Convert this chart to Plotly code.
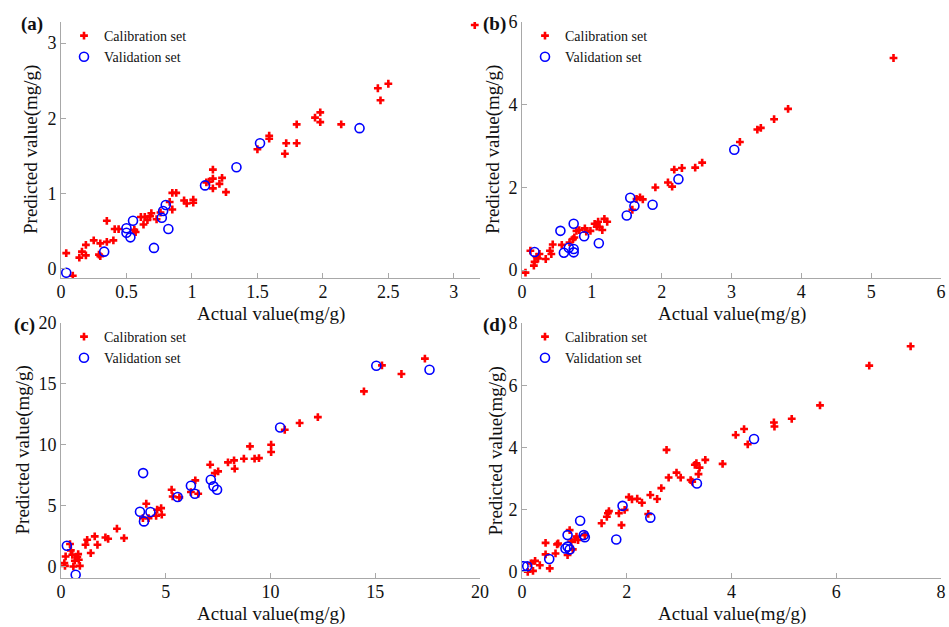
import plotly.graph_objects as go

# ---------------- data ----------------
a_cal_x = [0.04,0.09,0.14,0.16,0.19,0.19,0.25,0.29,0.30,0.30,0.35,0.35,0.40,0.41,0.44,0.56,0.57,0.61,0.63,0.64,0.66,0.68,0.69,0.73,0.76,0.83,0.85,0.85,0.88,0.94,0.96,1.01,1.01,1.11,1.13,1.16,1.16,1.16,1.21,1.23,1.26,1.50,1.59,1.59,1.71,1.72,1.80,1.80,1.94,1.98,1.98,2.14,2.42,2.44,2.50,3.16]
a_cal_y = [0.21,-0.09,0.15,0.23,0.32,0.18,0.38,0.19,0.34,0.17,0.64,0.36,0.38,0.53,0.53,0.52,0.49,0.69,0.59,0.69,0.65,0.70,0.74,0.66,0.75,0.89,0.79,1.01,1.01,0.91,0.87,0.92,0.88,1.15,1.16,1.32,1.20,1.07,1.13,1.21,1.02,1.59,1.77,1.73,1.53,1.67,1.92,1.67,2.01,2.08,1.95,1.92,2.40,2.24,2.46,3.24]
a_val_x = [0.04,0.33,0.50,0.50,0.53,0.55,0.71,0.77,0.78,0.80,0.82,1.10,1.34,1.52,2.28]
a_val_y = [-0.05,0.23,0.54,0.48,0.42,0.64,0.28,0.68,0.77,0.85,0.53,1.11,1.35,1.67,1.87]

b_cal_x = [0.05,0.12,0.17,0.18,0.21,0.23,0.25,0.34,0.40,0.42,0.44,0.57,0.68,0.73,0.75,0.78,0.82,0.90,0.92,0.98,1.04,1.07,1.09,1.11,1.15,1.18,1.22,1.58,1.64,1.69,1.73,1.91,2.09,2.15,2.18,2.29,2.48,2.58,3.12,3.37,3.42,3.61,3.81,5.32]
b_cal_y = [-0.06,0.47,0.11,0.20,0.32,0.28,0.39,0.27,0.47,0.39,0.62,0.61,0.67,0.75,0.79,0.95,0.97,1.01,0.93,0.95,1.12,1.05,1.17,1.05,0.97,1.24,1.17,1.46,1.72,1.76,1.71,2.00,2.12,2.02,2.43,2.47,2.48,2.60,3.10,3.40,3.44,3.65,3.90,5.13]
b_val_x = [0.18,0.55,0.60,0.67,0.74,0.74,0.74,0.89,1.10,1.50,1.55,1.61,1.87,2.24,3.04]
b_val_y = [0.44,0.95,0.42,0.54,1.12,0.51,0.43,0.82,0.65,1.32,1.75,1.55,1.58,2.20,2.91]

c_cal_x = [0.16,0.19,0.22,0.43,0.47,0.54,0.59,0.66,0.78,0.82,0.85,0.90,1.17,1.25,1.42,1.61,1.74,2.12,2.25,2.67,3.01,3.91,4.07,4.18,4.54,4.59,4.78,4.81,5.28,5.33,5.65,6.20,6.41,6.55,7.12,7.34,7.50,7.97,8.26,8.29,8.73,9.02,9.24,9.45,10.03,10.03,10.68,11.39,12.26,14.46,15.32,16.25,17.37]
c_cal_y = [0.27,0.05,0.82,1.84,1.32,0.96,0.00,0.47,0.77,1.01,0.55,0.05,1.78,2.19,1.10,2.47,1.78,2.38,2.27,3.10,2.33,3.97,5.15,3.97,4.16,4.66,4.79,4.25,6.30,5.75,5.67,6.11,7.07,5.97,8.36,7.67,7.81,8.55,8.71,8.03,8.85,9.86,8.85,8.90,10.00,9.40,11.23,11.78,12.27,14.38,16.52,15.81,17.07]
c_val_x = [0.28,0.70,3.77,3.92,3.96,4.27,5.57,6.20,6.39,7.15,7.28,7.45,10.46,15.05,17.59]
c_val_y = [1.70,-0.68,4.49,7.67,3.70,4.47,5.70,6.63,5.97,7.12,6.58,6.30,11.42,16.49,16.16]

d_cal_x = [0.11,0.17,0.21,0.25,0.34,0.45,0.45,0.53,0.64,0.67,0.69,0.87,0.91,0.94,0.97,1.01,1.04,1.07,1.20,1.52,1.62,1.64,1.66,1.85,1.90,1.96,2.04,2.10,2.20,2.29,2.41,2.45,2.58,2.66,2.76,2.80,2.95,3.03,3.22,3.25,3.30,3.33,3.37,3.39,3.50,3.83,4.08,4.24,4.31,4.81,4.82,5.15,5.69,6.63,7.42]
d_cal_y = [0.00,0.27,0.03,0.35,0.21,0.93,0.56,0.11,0.59,0.88,0.91,0.54,1.34,0.97,0.72,1.04,1.13,1.02,1.18,1.56,1.77,1.88,1.95,1.88,1.50,1.99,2.40,2.33,2.35,2.22,1.86,2.47,2.34,2.69,3.92,3.03,3.19,3.03,2.95,2.90,3.44,3.49,3.14,3.35,3.60,3.47,4.40,4.59,4.10,4.80,4.67,4.92,5.35,6.63,7.25]
d_val_x = [0.03,0.10,0.52,0.83,0.87,0.87,0.91,1.11,1.18,1.20,1.80,1.92,2.45,3.34,4.43]
d_val_y = [0.18,0.18,0.41,0.75,0.81,1.18,0.72,1.64,1.18,1.11,1.04,2.12,1.74,2.84,4.27]

panel_labels = ["(a)", "(b)", "(c)", "(d)"]
x_title = "Actual value(mg/g)"
y_title = "Predicted value(mg/g)"
cal_name = "Calibration set"
val_name = "Validation set"

x_ranges = [[0, 3.2], [0, 6], [0, 20], [0, 8]]
y_ranges = [[-0.12, 3.28], [-0.19, 6], [-0.95, 20], [-0.2, 8]]
x_ticks = [[0, 0.5, 1, 1.5, 2, 2.5, 3], [0, 1, 2, 3, 4, 5, 6], [0, 5, 10, 15, 20], [0, 2, 4, 6, 8]]
y_ticks = [[0, 1, 2, 3], [0, 2, 4, 6], [0, 5, 10, 15, 20], [0, 2, 4, 6, 8]]

# ---------------- layout geometry (pixels) ----------------
W, H = 949, 627
FONT = "Liberation Serif"
AX_COL = "#a8a8a8"
TXT = "#111111"
# (left, right, top, bottom) of each plot area in px
boxes = [(61, 480, 22, 278), (522, 941, 22, 278), (61, 480, 323, 578), (522, 941, 323, 578)]
ytitle_x = [31, 493, 22, 495]
label_x = [32, 494, 24, 495]

panels = [
    (a_cal_x, a_cal_y, a_val_x, a_val_y),
    (b_cal_x, b_cal_y, b_val_x, b_val_y),
    (c_cal_x, c_cal_y, c_val_x, c_val_y),
    (d_cal_x, d_cal_y, d_val_x, d_val_y),
]

fig = go.Figure()
layout = dict(
    width=W, height=H, margin=dict(l=0, r=0, t=0, b=0, autoexpand=False),
    paper_bgcolor="white", plot_bgcolor="white",
    font=dict(family=FONT, size=18, color=TXT),
    showlegend=True, annotations=[],
)

for i, (cx, cy, vx, vy) in enumerate(panels):
    n = "" if i == 0 else str(i + 1)
    leg = "legend" if i == 0 else "legend" + str(i + 1)
    fig.add_trace(go.Scatter(
        x=cx, y=cy, mode="markers", name=cal_name, legend=leg,
        xaxis="x" + n, yaxis="y" + n,
        marker=dict(symbol="cross", size=6.5, color="#ff0000", line=dict(width=0)),
    ))
    fig.add_trace(go.Scatter(
        x=vx, y=vy, mode="markers", name=val_name, legend=leg,
        xaxis="x" + n, yaxis="y" + n,
        marker=dict(symbol="circle-open", size=9, color="#0000ff", line=dict(width=1.6, color="#0000ff")),
    ))
    l, r, t, b = boxes[i]
    common = dict(showgrid=False, zeroline=False, showline=True, linecolor=AX_COL, linewidth=1,
                  ticks="inside", ticklen=5, tickcolor=AX_COL, mirror=False,
                  tickfont=dict(family=FONT, size=18, color=TXT))
    layout["xaxis" + n] = dict(domain=[l / W, r / W], range=x_ranges[i], tickvals=x_ticks[i],
                               anchor="y" + n, ticklabelstandoff=-3, **common)
    layout["yaxis" + n] = dict(domain=[1 - b / H, 1 - t / H], range=y_ranges[i], tickvals=y_ticks[i],
                               anchor="x" + n, **common)
    layout[leg] = dict(x=(l + 3) / W, y=1 - (t - 2) / H, xanchor="left", yanchor="top",
                       bgcolor="rgba(0,0,0,0)", borderwidth=0, tracegroupgap=0,
                       font=dict(family=FONT, size=14, color=TXT), itemwidth=30)
    # axis titles
    layout["annotations"].append(dict(text=x_title, xref="paper", yref="paper",
                                      x=(l + r) / 2 / W, y=1 - (b + 36) / H, showarrow=False,
                                      xanchor="center", yanchor="middle",
                                      font=dict(family=FONT, size=19, color=TXT)))
    layout["annotations"].append(dict(text=y_title, xref="paper", yref="paper",
                                      x=ytitle_x[i] / W, y=1 - (t + b) / 2 / H, showarrow=False,
                                      textangle=-90, xanchor="center", yanchor="middle",
                                      font=dict(family=FONT, size=19, color=TXT)))
    layout["annotations"].append(dict(text="<b>" + panel_labels[i] + "</b>", xref="paper", yref="paper",
                                      x=label_x[i] / W, y=1 - (t + 2) / H, showarrow=False,
                                      xanchor="center", yanchor="middle",
                                      font=dict(family=FONT, size=19, color=TXT)))

fig.update_layout(**layout)
fig.write_html("out.html")
